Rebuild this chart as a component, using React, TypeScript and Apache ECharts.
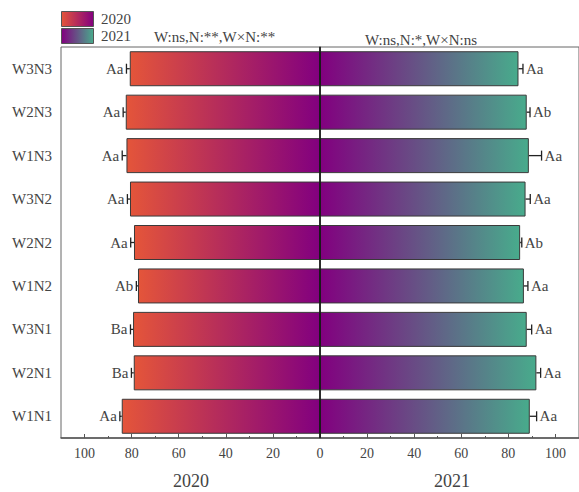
import React, { useEffect, useRef } from "react";
import * as echarts from "echarts";

const categories = ["W1N1", "W2N1", "W3N1", "W1N2", "W2N2", "W3N2", "W1N3", "W2N3", "W3N3"];
const values2020 = [84.2, 79.1, 79.4, 77.3, 79.0, 80.7, 82.2, 82.5, 80.8];
const errors2020 = [0.8, 1.0, 1.1, 0.7, 1.4, 1.1, 1.8, 1.1, 1.4];
const letters2020 = ["Aa", "Ba", "Ba", "Ab", "Aa", "Aa", "Aa", "Aa", "Aa"];
const values2021 = [89.1, 91.9, 87.8, 86.6, 85.0, 87.3, 88.7, 87.8, 84.3];
const errors2021 = [2.9, 1.8, 2.1, 1.7, 0.7, 2.0, 5.4, 1.4, 1.9];
const letters2021 = ["Aa", "Aa", "Aa", "Aa", "Ab", "Aa", "Aa", "Ab", "Aa"];
const majorTicks = [-100, -80, -60, -40, -20, 0, 20, 40, 60, 80, 100];
const minorTicks = [-90, -70, -50, -30, -10, 10, 30, 50, 70, 90];
const yearNames = ["2020", "2021"];
const statNotes = ["W:ns,N:**,W×N:**", "W:ns,N:*,W×N:ns"];

const FONT = '"Liberation Serif", "Times New Roman", serif';
const TEXT = "#444";
const ORANGE = "#e4553a";
const PURPLE = "#82007f";
const TEAL = "#48ab8c";

const grad = (a: string, b: string) =>
  new echarts.graphic.LinearGradient(0, 0, 1, 0, [
    { offset: 0, color: a },
    { offset: 1, color: b },
  ]);

function errSeries(values: number[], errors: number[], letters: string[], side: number) {
  return {
    type: "custom",
    xAxisIndex: 0,
    yAxisIndex: 0,
    z: 5,
    silent: true,
    encode: { x: [0, 2], y: 1 },
    data: values.map((v, i) => [side * (v + errors[i]), i, side * v]),
    renderItem: (params: any, api: any) => {
      const end = api.coord([api.value(0), api.value(1)]);
      const start = api.coord([api.value(2), api.value(1)]);
      const lbl = letters[params.dataIndex];
      const lw = { stroke: "#222", lineWidth: 1.3 };
      return {
        type: "group",
        children: [
          { type: "line", shape: { x1: start[0], y1: start[1], x2: end[0], y2: end[1] }, style: lw },
          { type: "line", shape: { x1: end[0], y1: end[1] - 5, x2: end[0], y2: end[1] + 5 }, style: lw },
          {
            type: "text",
            x: end[0] + side * 3,
            y: end[1],
            style: {
              text: lbl,
              fill: TEXT,
              font: `15px ${FONT}`,
              align: side < 0 ? "right" : "left",
              verticalAlign: "middle",
            },
          },
        ],
      };
    },
  };
}

export default function App() {
  const ref = useRef<HTMLDivElement>(null);
  useEffect(() => {
    document.body.style.margin = "0";
    const chart = echarts.init(ref.current!, undefined, { renderer: "svg" });
    chart.setOption({
      animation: false,
      grid: {
        left: 61,
        right: -4,
        top: 47,
        bottom: 54,
        show: true,
        borderColor: "#666",
        borderWidth: 1,
        backgroundColor: "transparent",
      },
      xAxis: [
        {
          type: "value",
          min: -110,
          max: 110,
          axisLine: { show: true, lineStyle: { color: "#555", width: 1.5 } },
          axisTick: { show: true, inside: true, length: 4, customValues: majorTicks, lineStyle: { color: "#555" } },
          axisLabel: {
            customValues: majorTicks,
            formatter: (v: number) => String(Math.abs(v)),
            color: TEXT,
            fontFamily: FONT,
            fontSize: 14,
            margin: 8,
          },
          splitLine: { show: false },
        },
        {
          type: "value",
          min: -110,
          max: 110,
          position: "bottom",
          axisLine: { show: false },
          axisTick: { show: true, inside: true, length: 2, customValues: minorTicks, lineStyle: { color: "#555" } },
          axisLabel: { show: false },
          splitLine: { show: false },
        },
      ],
      yAxis: {
        type: "category",
        data: categories,
        axisLine: { show: true, lineStyle: { color: "#555", width: 1.5 } },
        axisTick: { show: true, inside: true, length: 5, alignWithLabel: true, lineStyle: { color: "#555" } },
        axisLabel: { color: TEXT, fontFamily: FONT, fontSize: 15, margin: 9 },
      },
      series: [
        {
          type: "bar",
          name: yearNames[0],
          data: values2020.map((v) => -v),
          barWidth: 35,
          itemStyle: { color: grad(ORANGE, PURPLE), borderColor: "#3a3a3a", borderWidth: 1 },
        },
        {
          type: "bar",
          name: yearNames[1],
          data: values2021,
          barWidth: 35,
          barGap: "-100%",
          itemStyle: { color: grad(PURPLE, TEAL), borderColor: "#3a3a3a", borderWidth: 1 },
          markLine: {
            silent: true,
            symbol: "none",
            label: { show: false },
            lineStyle: { color: "#111", width: 1.5, type: "solid" },
            data: [{ xAxis: 0 }],
          },
        },
        errSeries(values2020, errors2020, letters2020, -1),
        errSeries(values2021, errors2021, letters2021, 1),
      ],
      graphic: [
        { type: "rect", left: 61, top: 11, shape: { width: 32, height: 15 }, style: { fill: grad(ORANGE, PURPLE), stroke: "#555", lineWidth: 1 } },
        { type: "rect", left: 61, top: 28, shape: { width: 32, height: 15 }, style: { fill: grad(PURPLE, TEAL), stroke: "#555", lineWidth: 1 } },
        { type: "text", x: 101, y: 19, style: { text: yearNames[0], fill: TEXT, font: `15px ${FONT}`, verticalAlign: "middle" } },
        { type: "text", x: 101, y: 36, style: { text: yearNames[1], fill: TEXT, font: `15px ${FONT}`, verticalAlign: "middle" } },
        { type: "text", x: 154, y: 37, style: { text: statNotes[0], fill: TEXT, font: `15px ${FONT}`, verticalAlign: "middle" } },
        { type: "text", x: 365, y: 40, style: { text: statNotes[1], fill: TEXT, font: `15px ${FONT}`, verticalAlign: "middle" } },
        { type: "text", x: 191, y: 481, style: { text: yearNames[0], fill: TEXT, font: `18px ${FONT}`, align: "center", verticalAlign: "middle" } },
        { type: "text", x: 452, y: 481, style: { text: yearNames[1], fill: TEXT, font: `18px ${FONT}`, align: "center", verticalAlign: "middle" } },
      ],
    });
    return () => chart.dispose();
  }, []);
  return (
    <div style={{ width: 579, height: 492, overflow: "hidden" }}>
      <div ref={ref} style={{ width: 579, height: 492 }} />
    </div>
  );
}
